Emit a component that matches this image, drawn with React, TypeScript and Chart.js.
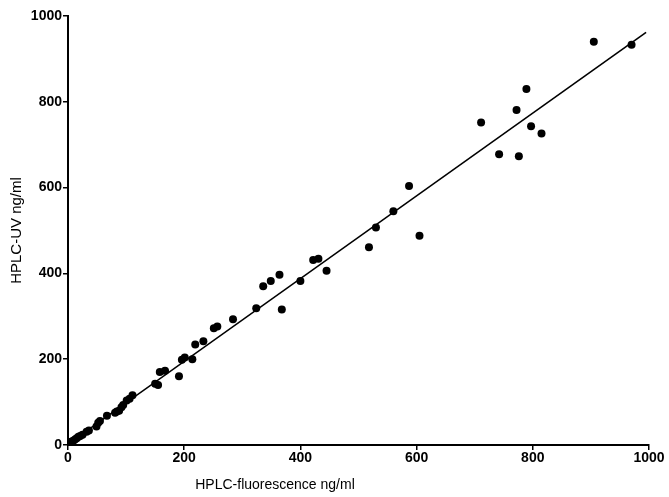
import React, { useEffect, useRef } from "react";
import { Chart, registerables } from "chart.js";

Chart.register(...registerables);

// HPLC-fluorescence (x) vs HPLC-UV (y), ng/ml
const fluorescence = [
  2, 4, 6, 9, 12, 15, 18, 21, 25, 32, 36, 49, 52, 55, 67, 81, 84, 88, 92, 95,
  101, 106, 111, 150, 155, 158, 167, 191, 196, 201, 214, 219, 233, 251, 257, 284,
  324, 336, 349, 364, 368, 400, 422, 431, 445, 518, 530, 560, 587, 605, 711, 742,
  772, 776, 789, 797, 815, 905, 970,
];
const uv = [
  3, 6, 8, 10, 13, 16, 19, 21, 24, 31, 34, 43, 52, 56, 68, 75, 78, 80, 88, 93,
  104, 108, 116, 143, 140, 170, 173, 160, 199, 204, 200, 234, 242, 272, 276, 293,
  319, 370, 382, 397, 316, 382, 431, 434, 406, 461, 507, 545, 604, 488, 752, 678,
  781, 673, 830, 743, 726, 940, 933,
];
// regression line end points
const fitX = [0, 995];
const fitY = [2, 962];

const xTicks = [0, 200, 400, 600, 800, 1000];
const yTicks = [0, 200, 400, 600, 800, 1000];
const xTitle = "HPLC-fluorescence ng/ml";
const yTitle = "HPLC-UV ng/ml";

const FONT = "'Liberation Sans', Arial, Helvetica, sans-serif";

export default function App() {
  const ref = useRef<HTMLCanvasElement | null>(null);

  useEffect(() => {
    if (!ref.current) return;
    const xTitlePlugin = {
      id: "xTitlePlugin",
      afterDraw(chart: any) {
        const ctx = chart.ctx;
        ctx.save();
        ctx.font = `14px ${FONT}`;
        ctx.fillStyle = "#000";
        ctx.textAlign = "center";
        ctx.textBaseline = "middle";
        ctx.fillText(xTitle, 275, 485);
        ctx.restore();
      },
    };
    const chart = new Chart(ref.current, {
      type: "scatter",
      data: {
        datasets: [
          {
            type: "scatter",
            data: fluorescence.map((x, i) => ({ x, y: uv[i] })),
            backgroundColor: "#000",
            borderWidth: 0,
            pointRadius: 4,
          },
          {
            type: "line",
            data: fitX.map((x, i) => ({ x, y: fitY[i] })),
            borderColor: "#000",
            borderWidth: 1.6,
            pointRadius: 0,
            fill: false,
          } as any,
        ],
      },
      options: {
        responsive: false,
        animation: false,
        layout: { padding: { left: 0, top: 16, right: 20, bottom: 0 } },
        plugins: {
          legend: { display: false },
          tooltip: { enabled: false },
        },
        scales: {
          x: {
            type: "linear",
            min: 0,
            max: 1000,
            afterBuildTicks: (s: any) => {
              s.ticks = xTicks.map((v) => ({ value: v }));
            },
            afterFit: (s: any) => {
              s.height = 52;
            },
            border: { display: true, color: "#000", width: 2 },
            grid: {
              display: true,
              drawOnChartArea: false,
              drawTicks: true,
              tickLength: 5,
              color: "#000",
              lineWidth: 1.5,
            },
            ticks: {
              padding: 0,
              color: "#000",
              font: { family: FONT, size: 14, weight: "bold" },
              maxRotation: 0,
              callback: (v: any) => String(v),
            },
          },
          y: {
            type: "linear",
            min: 0,
            max: 1000,
            afterBuildTicks: (s: any) => {
              s.ticks = yTicks.map((v) => ({ value: v }));
            },
            afterFit: (s: any) => {
              s.width = 68;
            },
            border: { display: true, color: "#000", width: 2 },
            grid: {
              display: true,
              drawOnChartArea: false,
              drawTicks: true,
              tickLength: 5,
              color: "#000",
              lineWidth: 1.5,
            },
            ticks: {
              padding: 1,
              color: "#000",
              font: { family: FONT, size: 14, weight: "bold" },
              callback: (v: any) => String(v),
            },
            title: {
              display: true,
              text: yTitle,
              color: "#000",
              font: { family: FONT, size: 15 },
              padding: { top: 8, bottom: 0 },
            },
          },
        },
      },
      plugins: [xTitlePlugin],
    });
    return () => chart.destroy();
  }, []);

  return (
    <div style={{ position: "fixed", left: 0, top: 0, width: 669, height: 497, background: "#fff" }}>
      <canvas ref={ref} width={669} height={497} style={{ display: "block" }} />
    </div>
  );
}
